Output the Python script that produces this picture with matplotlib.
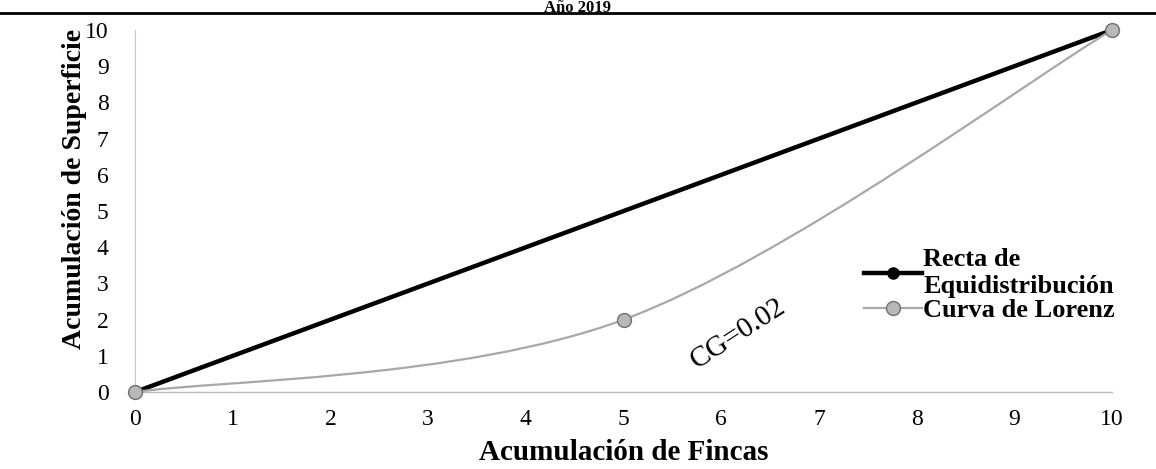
import matplotlib
matplotlib.use("Agg")
import matplotlib.pyplot as plt
from matplotlib.path import Path
from matplotlib.patches import PathPatch
import numpy as np

plt.rcParams['font.family'] = ['Liberation Serif', 'DejaVu Serif']

title = "Año 2019"
x_label = "Acumulación de Fincas"
y_label = "Acumulación de Superficie"
recta_x = [0, 10]
recta_y = [0, 10]
lorenz_x = [0, 5, 10]
lorenz_y = [0, 2, 10]
ticks = list(range(0, 11))
annotation = "CG=0.02"
legend_labels = ["Recta de\nEquidistribución", "Curva de Lorenz"]

fig = plt.figure(figsize=(11.56, 4.69), dpi=100)
ax = fig.add_axes([0.1168, 0.164, 0.8452, 0.772])
ax.set_xlim(0, 10)
ax.set_ylim(0, 10)

# Smoothed Lorenz curve (Excel-style Bezier through data points)
pts = np.column_stack([lorenz_x, lorenz_y]).astype(float)
verts = [tuple(pts[0])]
codes = [Path.MOVETO]
n = len(pts)
for i in range(n - 1):
    p0 = pts[i - 1] if i > 0 else pts[i]
    p1 = pts[i]
    p2 = pts[i + 1]
    p3 = pts[i + 2] if i + 2 < n else pts[i + 1]
    c1 = p1 + (p2 - p0) / 6.0
    c2 = p2 - (p3 - p1) / 6.0
    verts += [tuple(c1), tuple(c2), tuple(p2)]
    codes += [Path.CURVE4] * 3

gray = '#a8a8a8'
ax.plot(recta_x, recta_y, color='black', lw=3.2, marker='o', ms=8,
        clip_on=False, zorder=3, label=legend_labels[0])
patch = PathPatch(Path(verts, codes), facecolor='none', edgecolor=gray,
                  lw=1.6, zorder=4, clip_on=False)
ax.add_patch(patch)
ax.plot(lorenz_x, lorenz_y, ls='none', marker='o', ms=10, color='#b8b8b8',
        mec='#707070', mew=1.0, clip_on=False, zorder=5)
h2, = ax.plot([], [], color=gray, lw=1.6, marker='o', ms=10,
              mfc='#b8b8b8', mec='#707070', label=legend_labels[1])

for s in ['top', 'right']:
    ax.spines[s].set_visible(False)
ax.spines['bottom'].set_color('#bbbbbb')
ax.spines['bottom'].set_linestyle((0, (2, 1)))
ax.spines['bottom'].set_linewidth(1.0)
ax.spines['left'].set_color('#c8c8c8')
ax.spines['left'].set_linestyle((0, (2, 1)))
ax.spines['left'].set_linewidth(0.8)

ax.set_xticks(ticks)
ax.set_yticks(ticks)
ax.tick_params(length=0, labelsize=17, pad=12)
ax.tick_params(axis='y', pad=19)

ax.set_xlabel(x_label, fontsize=21, fontweight='bold', va='center')
ax.xaxis.set_label_coords(0.5, -0.166)
ax.set_ylabel(y_label, fontsize=20, fontweight='bold')
ax.yaxis.set_label_coords(-0.049, 0.56)

ax.text(6.17, 1.62, annotation, fontsize=21, rotation=33,
        ha='center', va='center')

leg = ax.legend(loc='upper left', bbox_to_anchor=(0.735, 0.427), frameon=False,
                prop={'weight': 'bold', 'size': 19}, handlelength=2.2,
                handletextpad=0.05, labelspacing=0.05, borderaxespad=0)

fig.add_artist(plt.Line2D([0, 1], [1 - 13 / 469, 1 - 13 / 469],
                          color='black', lw=2, transform=fig.transFigure))
fig.text(0.5, 1.0, title, fontsize=12, fontweight='bold',
         ha='center', va='top')

fig.savefig("out.png", dpi=100)
